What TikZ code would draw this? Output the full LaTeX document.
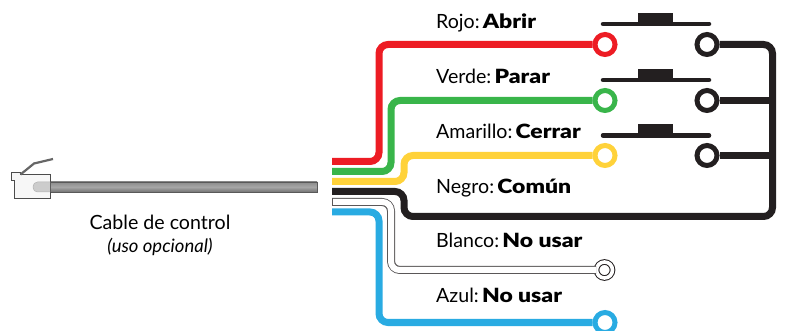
\documentclass[tikz,border=0pt]{standalone}
\usepackage{fontspec}
\setmainfont[BoldFont={Lato Black},BoldFeatures={FakeStretch=1.17}]{Lato}
\usepackage{xcolor}
\definecolor{wirered}{HTML}{ED1C24}
\definecolor{wiregreen}{HTML}{39B54A}
\definecolor{wireyellow}{HTML}{FFD23A}
\definecolor{wireblack}{HTML}{231F20}
\definecolor{wireblue}{HTML}{29ABE2}

\begin{document}
\begin{tikzpicture}[x=1pt,y=-1pt,
    wire/.style = {line width=7pt, rounded corners=9pt},
    terminal/.style = {shape=circle, draw, line width=5pt, fill=white, inner sep=0pt, minimum size=20pt},
    thinterminal/.style = {shape=circle, draw=wireblack, line width=1pt, fill=white, inner sep=0pt, minimum size=16pt, double=white, double distance=3.6pt},
    bar/.style = {draw=wireblack, line width=4.5pt, line cap=round},
    label/.style = {anchor=base west, inner sep=0pt, font=\fontsize{19.6}{22}\selectfont}]
  \useasboundingbox (0,0) rectangle (785,331);

  % plug and cable
  \shade[top color=gray!90, bottom color=gray!90!black, middle color=gray!70] (40,182) rectangle (317,192);
  \draw[gray!70!black, line width=0.8pt] (40,182) -- (317,182) -- (317,192) -- (40,192);
  \filldraw[draw=black!70, fill=black!3, line width=1pt] (11,172.3) -- (20,172.3) -- (20,175) -- (50.7,175) -- (50.7,199) -- (14.5,199) -- (14.5,180.6) -- (11,180.6) -- cycle;
  \draw[black!60, line width=2.2pt] (20.5,174.5) -- (34,163.5) -- (53,159);
  \filldraw[draw=gray!60, fill=gray!40, line width=0.5pt, rounded corners=4.5pt] (50.2,182) -- (33,182) -- (33,192) -- (50.2,192);
  \node[anchor=base, inner sep=0pt, font=\fontsize{19.6}{22}\selectfont] (cabletext) at (160,230) {Cable de control};
  \node[anchor=base, inner sep=0pt, font=\fontsize{18.5}{22}\selectfont\itshape] (cablenote) at (160,253) {(uso opcional)};

  % terminals
  \node[terminal, draw=wirered] (redl) at (605,44.5) {};
  \node[terminal, draw=wiregreen] (greenl) at (605,100.5) {};
  \node[terminal, draw=wireyellow] (yellowl) at (605,155.5) {};
  \node[terminal, draw=wireblack] (redr) at (707,44.5) {};
  \node[terminal, draw=wireblack] (greenr) at (707,100.5) {};
  \node[terminal, draw=wireblack] (yellowr) at (707,155.5) {};
  \node[thinterminal] (whitel) at (604.5,270) {};
  \node[terminal, draw=wireblue] (bluel) at (605,322.5) {};

  % wire ends
  \coordinate (redstart) at (332,161.5);
  \coordinate (greenstart) at (332,171.5);
  \coordinate (yellowstart) at (332,181.5);
  \coordinate (blackstart) at (332,191.5);
  \coordinate (whitestart) at (332,202);
  \coordinate (bluestart) at (332,212);
  \coordinate (redbend) at (379,161.5);
  \coordinate (greenbend) at (391,171.5);
  \coordinate (yellowbend) at (404,181.5);
  \coordinate (blackbend) at (404,191.5);
  \coordinate (blacklow) at (404,216.5);
  \coordinate (blackcorner) at (772.5,216.5);
  \coordinate (whitebend) at (391,202);
  \coordinate (bluebend) at (379,212);
  \coordinate (junctiongreen) at (772.5,100.5);
  \coordinate (junctionyellow) at (772.5,155.5);

  \draw[wire, draw=wirered] (redstart) -- (redbend) |- (redl);
  \draw[wire, draw=wiregreen] (greenstart) -- (greenbend) |- (greenl);
  \draw[wire, draw=wireyellow] (yellowstart) -- (yellowbend) |- (yellowl);
  \draw[wire, draw=wireblack] (blackstart) -- (blackbend) -- (blacklow) -- (blackcorner) |- (redr);
  \draw[line width=7pt, draw=wireblack] (greenr) -- (junctiongreen);
  \draw[line width=7pt, draw=wireblack] (yellowr) -- (junctionyellow);
  \draw[line width=8pt, rounded corners=9pt, draw=wireblack!75] (whitestart) -- (whitebend) |- (whitel);
  \draw[line width=6pt, rounded corners=8.5pt, draw=white] ([xshift=1pt]whitestart) -- (whitebend) |- (whitel);
  \draw[wire, draw=wireblue] (bluestart) -- (bluebend) |- (bluel);

  % switches
  \foreach \name/\y in {swa/24, swb/80, swc/135.5} {
    \coordinate (\name l) at (603,\y);
    \coordinate (\name r) at (709,\y);
    \draw[bar] (\name l) -- (\name r);
    \fill[wireblack] (638,\y-11) rectangle (673,\y);
  }

  % labels
  \node[label] (redtext) at (436,28.5) {Rojo:\,\textbf{Abrir}};
  \node[label] (greentext) at (436,84) {Verde:\,\textbf{Parar}};
  \node[label] (yellowtext) at (436,139) {Amarillo:\,\textbf{Cerrar}};
  \node[label] (blacktext) at (436,193.5) {Negro:\,\textbf{Común}};
  \node[label] (whitetext) at (436,248) {Blanco:\,\textbf{No usar}};
  \node[label] (bluetext) at (436,302.5) {Azul:\,\textbf{No usar}};
\end{tikzpicture}
\end{document}
